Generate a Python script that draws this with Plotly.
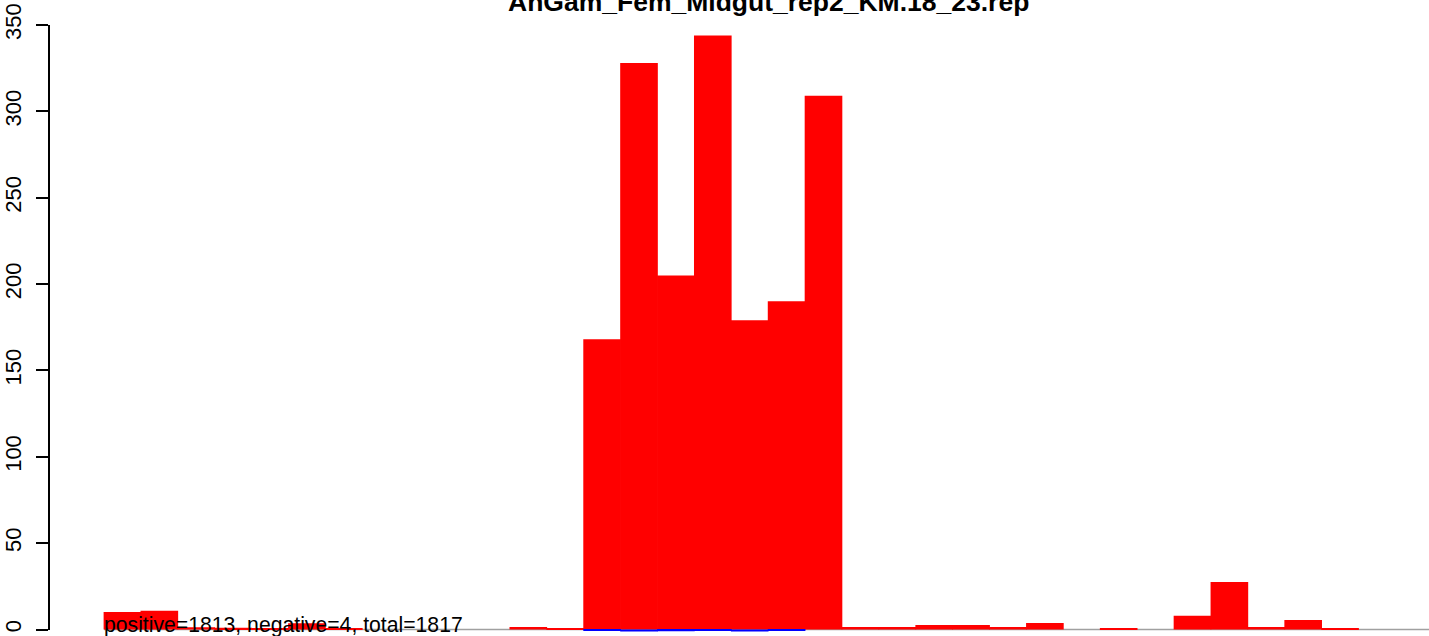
import plotly.graph_objects as go

# bin index along the read-position axis (36 bins)
bins = list(range(36))

positive = [10.2, 10.8, 1.3, 1.0, 0.8, 3.6, 0.8, 0, 0, 0,
            0, 1.4, 0.4, 168, 328, 205, 344, 179, 190, 309,
            1.4, 1.4, 2.6, 2.6, 1.4, 3.8, 0, 0.5, 0, 8.0,
            27.5, 1.4, 5.5, 0.9, 0, 0]

negative = [0, 0, 0, 0, 0, 0, 0, 0, 0, 0,
            0, 0, 0, -0.5, -1.2, -1.0, -0.5, -1.2, -0.5, 0,
            0, 0, 0, 0, 0, 0, 0, 0, 0, 0,
            0, 0, 0, 0, 0, 0]

y_ticks = [0, 50, 100, 150, 200, 250, 300, 350]
title = "AnGam_Fem_Midgut_rep2_KM.18_23.rep"
summary = "positive=1813, negative=4, total=1817"

FONT = "Liberation Sans, Arial, sans-serif"
X_RANGE = [-1.463, 35.91]
Y_RANGE = [-3.76, 364.5]
xc = [b + 0.5 for b in bins]


def y_paper(v):
    return (v - Y_RANGE[0]) / (Y_RANGE[1] - Y_RANGE[0])


fig = go.Figure()
# slightly wider than 1 so no hairline seams between neighbouring bars
fig.add_trace(go.Bar(x=xc, y=positive, width=1.02, marker={"color": "#ff0000", "line": {"width": 0}}))
fig.add_trace(go.Bar(x=xc, y=negative, width=1.02, marker={"color": "#0000ff", "line": {"width": 0}}))
# empty trace so the R-style axis (0..350 only) gets drawn on its own subplot
fig.add_trace(go.Scatter(x=[None], y=[None], xaxis="x2", yaxis="y2", mode="lines", hoverinfo="skip"))

# zero line under the bars
fig.add_shape(type="line", x0=0, x1=len(bins), y0=0, y1=0, layer="below",
              line={"color": "#a0a0a0", "width": 1.5})

fig.add_annotation(text=f"<b>{title}</b>", xref="paper", yref="paper",
                   x=(768 - 50) / 1379, y=(636 - 19) / 636, xanchor="center", yanchor="bottom",
                   showarrow=False, font={"family": FONT, "size": 26.5, "color": "black"})
fig.add_annotation(text=summary, xref="x", yref="paper", x=-0.06, y=-0.004,
                   xanchor="left", yanchor="bottom", showarrow=False,
                   font={"family": FONT, "size": 21.2, "color": "black"})

fig.update_layout(
    width=1429, height=636,
    margin={"l": 50, "r": 0, "t": 0, "b": 0},
    paper_bgcolor="white", plot_bgcolor="rgba(0,0,0,0)",
    barmode="overlay", showlegend=False,
    font={"family": FONT, "color": "black"},
    xaxis={"range": X_RANGE, "visible": False, "showgrid": False, "zeroline": False},
    yaxis={"range": Y_RANGE, "visible": False, "showgrid": False, "zeroline": False},
    xaxis2={"domain": [0, 1], "range": X_RANGE, "anchor": "y2", "visible": False},
    yaxis2={
        "domain": [y_paper(y_ticks[0]), y_paper(y_ticks[-1])], "anchor": "x2",
        "range": [y_ticks[0], y_ticks[-1]], "showgrid": False, "zeroline": False,
        "showline": True, "linecolor": "black", "linewidth": 2.2, "automargin": False,
        "tickvals": y_ticks, "ticktext": [str(v) for v in y_ticks],
        "ticks": "outside", "ticklen": 12, "tickwidth": 2, "tickcolor": "black",
        "tickangle": -90, "tickfont": {"family": FONT, "size": 22, "color": "black"},
        "ticklabelstandoff": 6,
    },
)

fig.write_html("out.html", config={"displayModeBar": False},
               post_script="document.body.style.margin='0';document.body.style.overflow='hidden';")
